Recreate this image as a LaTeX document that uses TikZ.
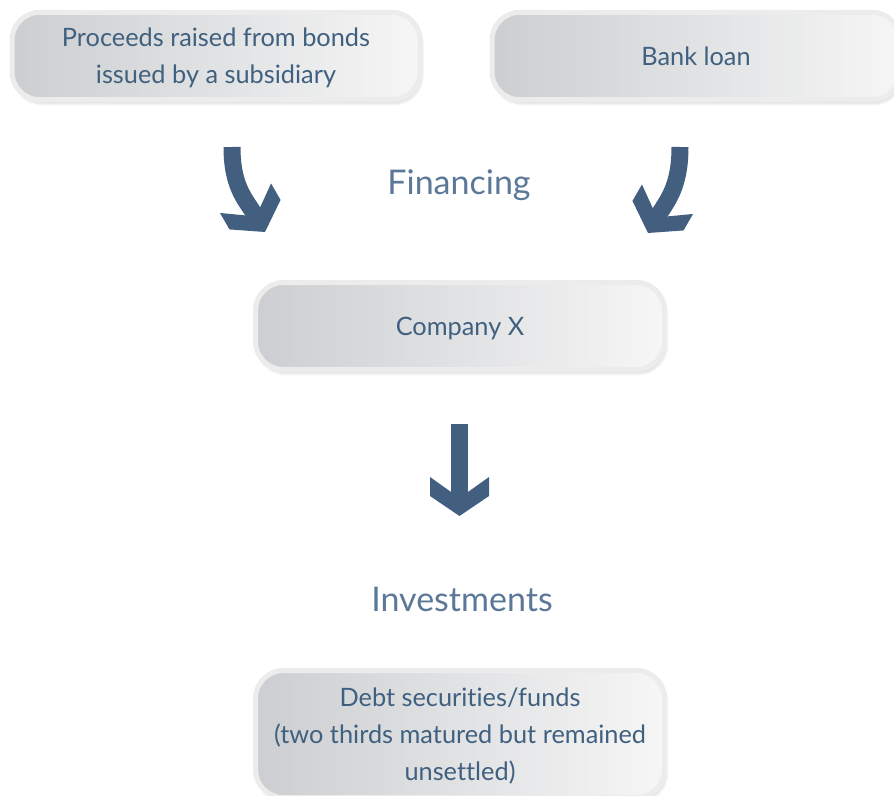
\documentclass[tikz,border=0pt]{standalone}
\usepackage{fontspec}
\setmainfont{Lato}[Ligatures=NoCommon]
\usetikzlibrary{shadows.blur}

\definecolor{textblue}{RGB}{64,96,128}
\definecolor{headblue}{RGB}{92,120,152}
\definecolor{arrowblue}{RGB}{66,95,127}
\definecolor{boxdark}{RGB}{204,206,209}
\definecolor{boxlight}{RGB}{246,246,246}
\definecolor{ringgray}{RGB}{236,236,236}

\tikzset{
    box/.style={rectangle, rounded corners=21pt, draw=ringgray, line width=3.75pt,
        left color=boxdark, right color=boxlight, text=textblue, align=center,
        minimum width=306pt, minimum height=65.6pt, inner sep=0pt, text depth=0pt,
        font=\fontsize{19pt}{27.75pt}\selectfont,
        blur shadow={shadow xshift=1.5pt, shadow yshift=-3pt, shadow opacity=14, shadow blur steps=8}},
    heading/.style={text=headblue, font=\fontsize{25.5pt}{30pt}\selectfont},
    shaft/.style={draw=arrowblue, line width=12.75pt},
    chevron/.pic={\fill[arrowblue] (0,0) -- (-29.5,-20) -- (-29.5,-39) -- (0,-18) -- (29.5,-39) -- (29.5,-20) -- cycle;}
}

\begin{document}
\begin{tikzpicture}[x=0.75pt, y=-0.75pt]
    \useasboundingbox (0,0) rectangle (894,796);
    \clip (0,0) rectangle (894,796);

    % sources of the money
    \node[box] (bonds) at (216,56) {Proceeds raised from bonds\\issued by a subsidiary};
    \node[box] (loan) at (696,56) {Bank loan};
    \node[heading] (financing) at (459,185) {Financing};

    \node[box, minimum width=306.75pt, minimum height=65.25pt] (company) at (460,326) {Company X};

    \node[heading] (investments) at (462,599) {Investments};
    \node[box, minimum width=306.75pt, minimum height=95.25pt] (debt) at (460,734)
        {Debt securities/funds\\(two thirds matured but remained\\unsettled)};

    % arrows
    \coordinate (ltop) at (232,147);
    \coordinate (lend) at (257,218.1);
    \coordinate (ltip) at (265,232);
    \coordinate (rtop) at (680,147);
    \coordinate (rend) at (656,219.1);
    \coordinate (rtip) at (648,233);
    \coordinate (dtop) at (459.5,424);
    \coordinate (dend) at (459.5,500);
    \coordinate (dtip) at (459.5,516);

    \draw[shaft] (ltop) .. controls +(0,42) and +(-10,-17.3) .. (lend);
    \pic[rotate=30] at (ltip) {chevron};
    \draw[shaft] (rtop) .. controls +(0,42) and +(10,-17.3) .. (rend);
    \pic[rotate=-30] at (rtip) {chevron};
    \draw[shaft] (dtop) -- (dend);
    \pic at (dtip) {chevron};
\end{tikzpicture}
\end{document}
